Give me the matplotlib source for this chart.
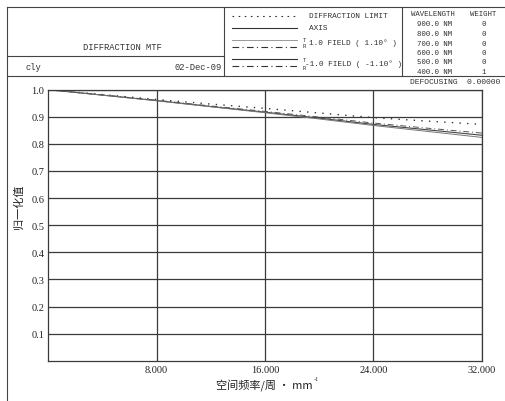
import matplotlib
matplotlib.use("Agg")
import matplotlib.pyplot as plt
from matplotlib.lines import Line2D

# ---- data ----
freq = [0, 4, 8, 12, 16, 20, 24, 28, 32]
diff_limit = [1.000, 0.982, 0.964, 0.947, 0.931, 0.914, 0.897, 0.884, 0.872]
axis_mtf = [1.000, 0.980, 0.960, 0.938, 0.917, 0.895, 0.872, 0.852, 0.832]
field_T = [1.000, 0.980, 0.959, 0.937, 0.915, 0.892, 0.868, 0.846, 0.824]
field_R = [1.000, 0.981, 0.961, 0.940, 0.920, 0.899, 0.877, 0.858, 0.840]

x_ticks = [8, 16, 24, 32]
x_tick_labels = ["8.000", "16.000", "24.000", "32.000"]
y_ticks = [0.1, 0.2, 0.3, 0.4, 0.5, 0.6, 0.7, 0.8, 0.9, 1.0]
y_tick_labels = ["0.1", "0.2", "0.3", "0.4", "0.5", "0.6", "0.7", "0.8", "0.9", "1.0"]

wavelengths = ["900.0 NM", "800.0 NM", "700.0 NM", "600.0 NM", "500.0 NM", "400.0 NM"]
weights = ["0", "0", "0", "0", "0", "1"]

W, H = 505, 402
fig = plt.figure(figsize=(W / 100, H / 100), dpi=100)
fig.patch.set_facecolor("white")

def fx(x):
    return x / W

def fy(y):
    return 1 - y / H

def hline(x0, x1, y, **kw):
    fig.add_artist(Line2D([fx(x0), fx(x1)], [fy(y), fy(y)], transform=fig.transFigure,
                          color=kw.get("color", "#444444"), lw=kw.get("lw", 0.8),
                          ls=kw.get("ls", "-")))

def vline(x, y0, y1, **kw):
    fig.add_artist(Line2D([fx(x), fx(x)], [fy(y0), fy(y1)], transform=fig.transFigure,
                          color=kw.get("color", "#444444"), lw=kw.get("lw", 0.8)))

mono = "Liberation Mono"
serif = "Liberation Serif"
cjk = ["Noto Sans CJK SC", "DejaVu Sans"]

# ---- header frame ----
hline(6.5, 505, 8)
vline(6.5, 8, 402)
hline(6.5, 505, 76.5)
hline(6.5, 224, 57)
vline(224, 8, 76.5)
vline(402, 8, 76.5)

def ftext(x, y, s, size=5.6, ha="left", family=mono, **kw):
    fig.text(fx(x), fy(y), s, ha=ha, va="center", fontsize=size, family=family,
             color="#333333", **kw)

ftext(122, 47, "DIFFRACTION MTF", size=6.3, ha="center")
ftext(26, 68, "cly", size=6.3)
ftext(222, 68, "02-Dec-09", size=6.3, ha="right")

# legend samples
def sample(y, ls, color="#333333", lw=0.8):
    fig.add_artist(Line2D([fx(232), fx(297)], [fy(y), fy(y)], transform=fig.transFigure,
                          color=color, lw=lw, ls=ls))

sample(17, (0, (1.5, 4)))
sample(29, "-")
sample(40.5, "-", color="#999999", lw=0.7)
sample(47.5, (0, (6, 3, 1, 3)))
sample(60, "-")
sample(67, (0, (6, 3, 1, 3)))

ftext(309, 16, "DIFFRACTION LIMIT")
ftext(309, 29, "AXIS")
ftext(303, 40, "T", size=4)
ftext(303, 47, "R", size=4)
ftext(309, 43.5, "1.0 FIELD ( 1.10\u00b0 )")
ftext(303, 61, "T", size=4)
ftext(303, 68, "R", size=4)
ftext(305, 64, "-1.0 FIELD ( -1.10\u00b0 )")

ftext(411, 14.5, "WAVELENGTH", size=5.3)
ftext(483.5, 14.5, "WEIGHT", size=5.3, ha="center")
row_y = [25, 34.5, 44, 53.5, 63, 72.5]
for yy, wl, wt in zip(row_y, wavelengths, weights):
    ftext(417, yy, wl, size=5.3)
    ftext(483.5, yy, wt, size=5.3, ha="center")

ftext(500, 83, "DEFOCUSING  0.00000", size=5.8, ha="right")

# ---- plot ----
ax = fig.add_axes([fx(48.3), fy(361.7), fx(481.7) - fx(48.3), fy(90.7) - fy(361.7)])
ax.plot(freq, diff_limit, color="#333333", lw=1.0, ls=(0, (1.0, 4.5)))
ax.plot(freq, axis_mtf, color="#444444", lw=0.8, ls="-")
ax.plot(freq, field_T, color="#777777", lw=0.7, ls="-")
ax.plot(freq, field_R, color="#555555", lw=0.7, ls=(0, (6, 3, 1, 3)))

ax.set_xlim(0, 32)
ax.set_ylim(0, 1.0)
ax.set_xticks(x_ticks)
ax.set_xticklabels(x_tick_labels, family=serif, fontsize=7.5, color="#222222")
ax.set_yticks(y_ticks)
ax.set_yticklabels(y_tick_labels, family=serif, fontsize=7.5, color="#222222")
ax.tick_params(length=0, pad=3)
ax.grid(True, color="#3a3a3a", lw=0.9)
for sp in ax.spines.values():
    sp.set_color("#3a3a3a")
    sp.set_linewidth(0.9)

fig.text(fx(19), fy(207), "归一化值", rotation=90, ha="center", va="center",
         fontsize=8, family=cjk, color="#222222")
fig.text(fx(313), fy(385), "空间频率/周 · mm", ha="right", va="center",
         fontsize=8, family=cjk, color="#222222")
fig.text(fx(314), fy(380), "-1", ha="left", va="center",
         fontsize=4.5, family=serif, color="#222222")

fig.savefig("out.png", dpi=100, facecolor="white")
